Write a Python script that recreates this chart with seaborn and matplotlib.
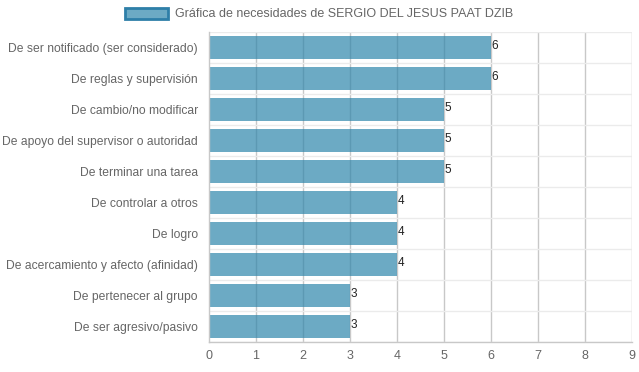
import matplotlib
matplotlib.use("Agg")
import matplotlib.pyplot as plt
import seaborn as sns
import pandas as pd
from matplotlib.patches import Patch

categories = [
    "De ser notificado (ser considerado)",
    "De reglas y supervisión",
    "De cambio/no modificar",
    "De apoyo del supervisor o autoridad",
    "De terminar una tarea",
    "De controlar a otros",
    "De logro",
    "De acercamiento y afecto (afinidad)",
    "De pertenecer al grupo",
    "De ser agresivo/pasivo",
]
values = [6, 6, 5, 5, 5, 4, 4, 4, 3, 3]
xticks = [0, 1, 2, 3, 4, 5, 6, 7, 8, 9]
legend_label = "Gráfica de necesidades de SERGIO DEL JESUS PAAT DZIB"

df = pd.DataFrame({"cat": categories, "val": values})

sns.set_theme(style="white")
plt.rcParams["font.family"] = ["Liberation Sans", "DejaVu Sans"]

fig = plt.figure(figsize=(6.39, 3.72), dpi=100)
ax = fig.add_axes([209/639, 1-342/372, (632-209)/639, (342-32)/372])

base = (46/255, 134/255, 171/255)
bar_rgba = base + (0.7,)
sns.barplot(data=df, x="val", y="cat", orient="h", color=base, saturation=1,
            width=0.72, ax=ax, zorder=1, linewidth=0)
for p in ax.patches:
    p.set_alpha(0.7)

ax.set_xlim(0, 9)
ax.set_ylim(len(categories)-0.5, -0.5)
ax.set_xticks(xticks)
ax.set_xticklabels([str(t) for t in xticks], color="#666666", fontsize=9)
ax.tick_params(axis="y", labelsize=8.7, labelcolor="#666666", length=0, pad=8)
ax.tick_params(axis="x", length=0, pad=6)
ax.set_xlabel("")
ax.set_ylabel("")

# gridlines
for t in xticks[1:]:
    ax.axvline(t, color="#c8c8c8", lw=1, zorder=0)
for i in range(len(categories)+1):
    ax.axhline(i-0.5, color="#ebebeb", lw=1, zorder=0)

for s in ["top", "right"]:
    ax.spines[s].set_visible(False)
ax.spines["left"].set_color("#c8c8c8")
ax.spines["bottom"].set_color("#c8c8c8")
ax.spines["left"].set_linewidth(1)
ax.spines["bottom"].set_linewidth(1)

for i, v in enumerate(values):
    ax.text(v + 0.01, i - 0.06, str(v), fontsize=8.5, color="#222222",
            ha="left", va="center")

handle = Patch(facecolor=bar_rgba, edgecolor=(46/255, 127/255, 168/255), linewidth=2)
fig.legend([handle], [legend_label], loc="upper center", bbox_to_anchor=(0.5, 1.01),
           frameon=False, fontsize=9, labelcolor="#666666",
           handlelength=3.4, handleheight=1.0, handletextpad=0.6)

fig.savefig("out.png", dpi=100)
